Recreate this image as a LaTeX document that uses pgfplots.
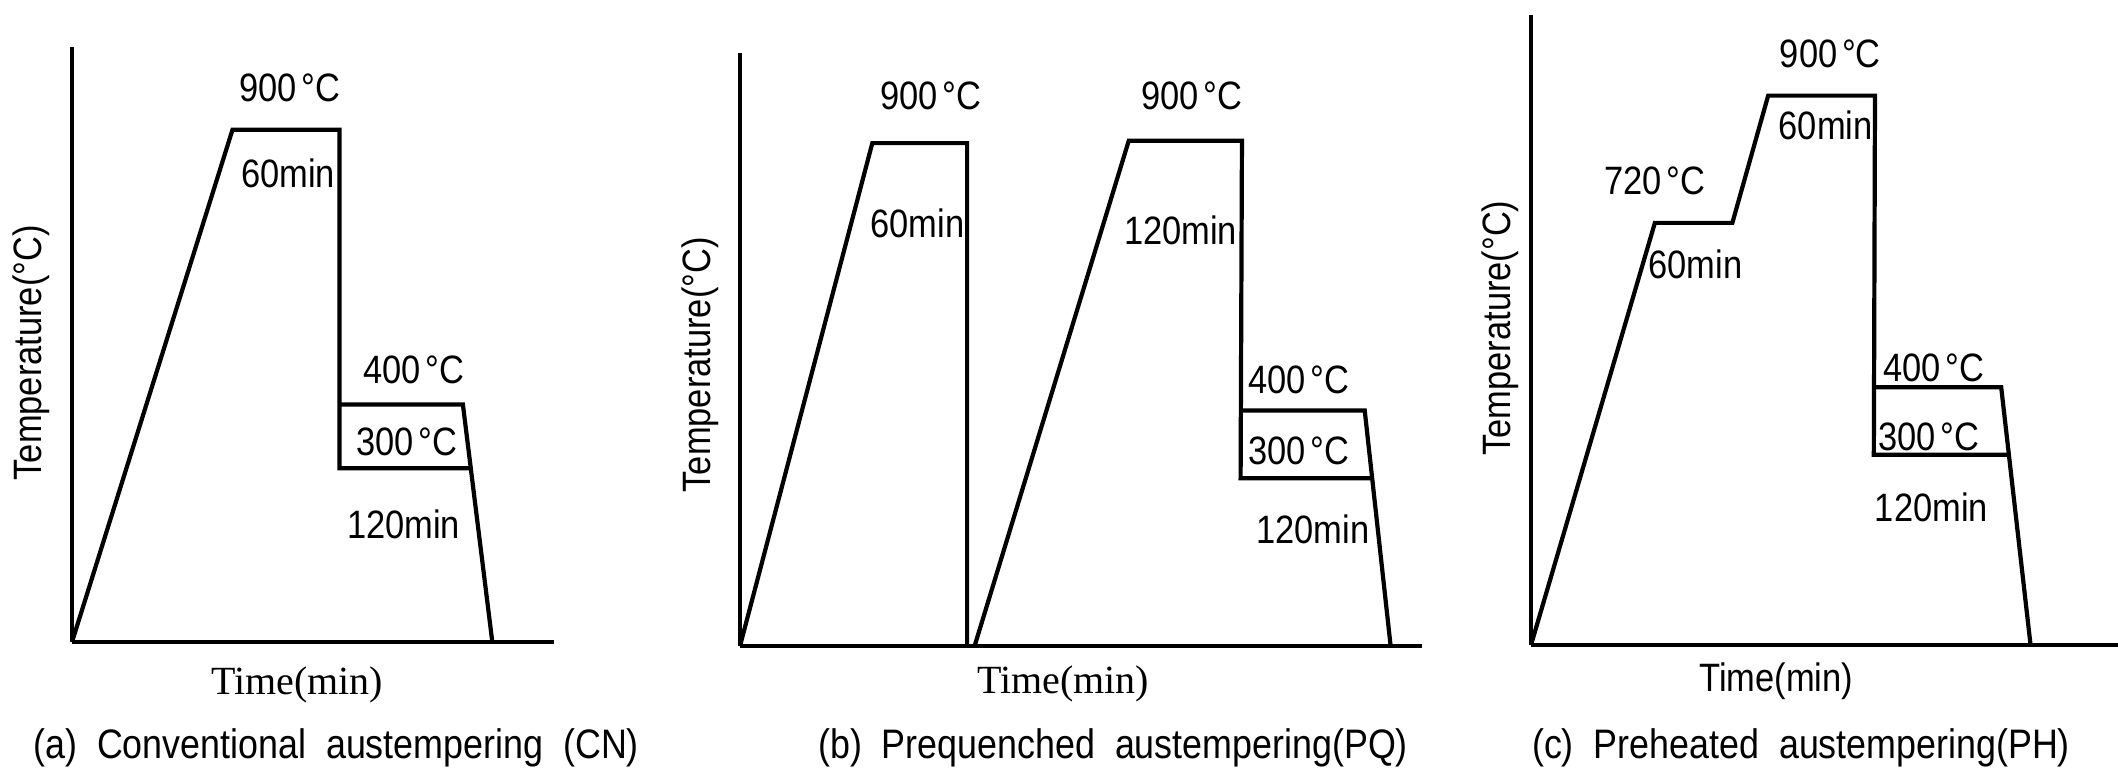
\documentclass[border=0pt]{standalone}
\usepackage{pgfplots}
\pgfplotsset{compat=1.18}
\usepackage{fontspec}
\setmainfont{Liberation Serif}
\newfontfamily\gsans[FakeStretch=0.87]{Liberation Sans}

\tikzset{
  lbl/.style={font=\gsans\fontsize{9.9}{11}\selectfont, inner sep=0pt, anchor=center},
  tlbl/.style={font=\gsans\fontsize{9.9}{11}\selectfont, inner sep=0pt, rotate=90, anchor=center},
  xlbl/.style={font=\fontsize{10}{12}\selectfont, inner sep=0pt, anchor=center},
  xlbls/.style={font=\gsans\fontsize{9.9}{12}\selectfont, inner sep=0pt, anchor=center},
  capt/.style={font=\gsans\fontsize{10.3}{12}\selectfont, inner sep=0pt, anchor=center},
}
\pgfplotsset{
  panel/.style={
    scale only axis, xmin=0, xmax=100, ymin=0, ymax=100,
    axis x line=bottom, axis y line=left,
    axis line style={-, line width=1pt},
    xtick=\empty, ytick=\empty, clip=false, anchor=origin,
  },
  curve/.style={black, line width=1.05pt, mark=none, line join=miter},
}

\begin{document}
\begin{tikzpicture}
\useasboundingbox (0,0) rectangle (529.5pt,192.25pt);

% ---------------- (a) ----------------
\begin{axis}[panel, at={(18pt,31.75pt)}, width=120.5pt, height=148.75pt]
\addplot[curve] coordinates {(0,0) (33.3,86.1) (55.5,86.1) (55.5,29.2) (82.6,29.2)};
\addplot[curve] coordinates {(55.5,39.9) (81.1,39.9) (87.2,0)};
\node[lbl] at (axis cs:45.2,93.1) {900\kern1.2pt°C};
\node[lbl] at (axis cs:44.8,78.7) {60min};
\node[lbl] at (axis cs:70.9,45.7) {400\kern1.2pt°C};
\node[lbl] at (axis cs:69.5,33.7) {300\kern1.2pt°C};
\node[lbl] at (axis cs:68.8,19.7) {120min};
\node[tlbl] at (rel axis cs:-0.084,0.486) {Temperature(°C)};
\node[xlbl] at (rel axis cs:0.467,-0.072) {Time(min)};
\node[capt] at (rel axis cs:0.548,-0.178) {(a)\ \ Conventional\ \ austempering\ \ (CN)};
\end{axis}

% ---------------- (b) ----------------
\begin{axis}[panel, at={(185pt,30.75pt)}, width=170.5pt, height=148.25pt]
\addplot[curve] coordinates {(0,0) (19.4,84.8) (33.3,84.8) (33.3,0)};
\addplot[curve] coordinates {(34.4,0) (57.0,85.2) (73.6,85.2) (73.4,28.3) (92.6,28.3)};
\addplot[curve] coordinates {(73.4,39.7) (91.6,39.7) (95.4,0)};
\node[lbl] at (axis cs:28.0,92.8) {900\kern1.2pt°C};
\node[lbl] at (axis cs:26.0,71.3) {60min};
\node[lbl] at (axis cs:66.2,92.8) {900\kern1.2pt°C};
\node[lbl] at (axis cs:64.6,70.1) {120min};
\node[lbl] at (axis cs:81.9,44.9) {400\kern1.2pt°C};
\node[lbl] at (axis cs:81.9,32.9) {300\kern1.2pt°C};
\node[lbl] at (axis cs:84.0,19.7) {120min};
\node[tlbl] at (rel axis cs:-0.059,0.474) {Temperature(°C)};
\node[xlbl] at (rel axis cs:0.474,-0.064) {Time(min)};
\node[capt] at (rel axis cs:0.547,-0.172) {(b)\ \ Prequenched\ \ austempering(PQ)};
\end{axis}

% ---------------- (c) ----------------
\begin{axis}[panel, at={(382.75pt,31pt)}, width=146.75pt, height=157.5pt]
\addplot[curve] coordinates {(0,0) (21.1,67.0) (34.3,67.0) (40.4,87.2) (58.6,87.2) (58.4,30.2) (81.4,30.2)};
\addplot[curve] coordinates {(58.4,40.9) (80.1,40.9) (85.1,0)};
\node[lbl] at (axis cs:21.1,73.6) {720\kern1.2pt°C};
\node[lbl] at (axis cs:28.0,60.4) {60min};
\node[lbl] at (axis cs:51.0,93.8) {900\kern1.2pt°C};
\node[lbl] at (axis cs:50.2,82.5) {60min};
\node[lbl] at (axis cs:68.6,44.0) {400\kern1.2pt°C};
\node[lbl] at (axis cs:67.8,33.1) {300\kern1.2pt°C};
\node[lbl] at (axis cs:68.2,21.8) {120min};
\node[tlbl] at (rel axis cs:-0.053,0.503) {Temperature(°C)};
\node[xlbls] at (rel axis cs:0.418,-0.058) {Time(min)};
\node[capt] at (rel axis cs:0.46,-0.163) {(c)\ \ Preheated\ \ austempering(PH)};
\end{axis}
\end{tikzpicture}
\end{document}
